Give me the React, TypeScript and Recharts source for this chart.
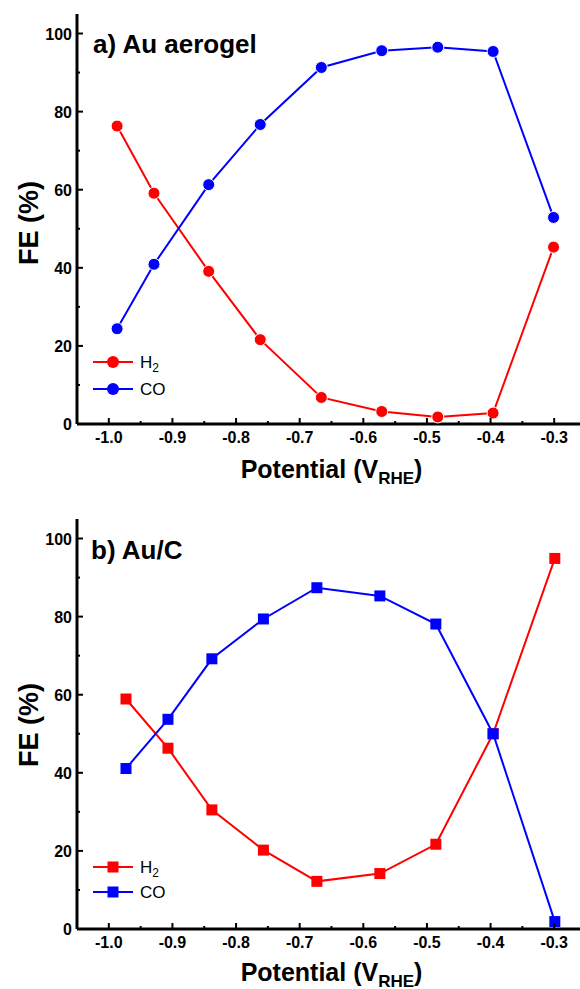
import { LineChart, Line, XAxis, YAxis } from "recharts";

// panel a) Au aerogel
const potentialA = [-0.987, -0.929, -0.843, -0.762, -0.666, -0.571, -0.483, -0.396, -0.301];
const h2A = [76.3, 59.1, 39.1, 21.6, 6.8, 3.2, 1.8, 2.8, 45.3];
const coA = [24.4, 40.9, 61.3, 76.7, 91.3, 95.6, 96.5, 95.4, 52.9];

// panel b) Au/C
const potentialB = [-0.973, -0.907, -0.838, -0.757, -0.673, -0.574, -0.486, -0.396, -0.299];
const h2B = [58.9, 46.3, 30.5, 20.2, 12.2, 14.2, 21.7, 50.0, 94.9];
const coB = [41.1, 53.7, 69.2, 79.4, 87.4, 85.3, 78.1, 50.0, 1.9];

const xTicks = [-1.0, -0.95, -0.9, -0.85, -0.8, -0.75, -0.7, -0.65, -0.6, -0.55, -0.5, -0.45, -0.4, -0.35, -0.3];
const topTicks = [-0.89, -0.81, -0.73, -0.65, -0.57, -0.49, -0.41, -0.33];
const yTicks = [0, 10, 20, 30, 40, 50, 60, 70, 80, 90, 100];

const RED = "#ff0000";
const BLUE = "#0000ff";
const FONT = "'Liberation Sans', Arial, sans-serif";

const rowsA = potentialA.map((p, i) => ({ p, h2: h2A[i], co: coA[i] }));
const rowsB = potentialB.map((p, i) => ({ p, h2: h2B[i], co: coB[i] }));

const isMajorX = (v: number) => Math.abs(v * 10 - Math.round(v * 10)) < 1e-6;

const BottomTick = (props: any) => {
  const { x, y, payload } = props;
  const major = isMajorX(payload.value);
  return (
    <g>
      <line x1={x} x2={x} y1={y} y2={y - (major ? 6 : 3)} stroke="#000" strokeWidth={2} />
      {major && (
        <text x={x} y={y + 19} textAnchor="middle" fontFamily={FONT} fontWeight="bold" fontSize={16} fill="#000">
          {payload.value.toFixed(1)}
        </text>
      )}
    </g>
  );
};

const TopTick = (props: any) => {
  const { x, y } = props;
  return <line x1={x} x2={x} y1={y} y2={y + 5} stroke="#000" strokeWidth={2} />;
};

const LeftTick = (props: any) => {
  const { x, y, payload } = props;
  const major = payload.value % 20 === 0;
  return (
    <g>
      <line x1={x} x2={x + (major ? 6 : 3)} y1={y} y2={y} stroke="#000" strokeWidth={2} />
      {major && (
        <text x={x - 5} y={y + 6} textAnchor="end" fontFamily={FONT} fontWeight="bold" fontSize={16} fill="#000">
          {payload.value}
        </text>
      )}
    </g>
  );
};

const square = (color: string) => (p: any) => (
  <rect key={`sq-${color}-${p.index}`} x={p.cx - 5.5} y={p.cy - 5.5} width={11} height={11} fill={color} />
);

function Panel({ data, marker, top }: { data: any[]; marker: "circle" | "square"; top: number }) {
  const dotFor = (color: string) =>
    marker === "circle" ? { r: 6, fill: color, stroke: "#fff", strokeWidth: 1 } : square(color);
  return (
    <div style={{ position: "absolute", left: 0, top }}>
      <LineChart width={620} height={490} data={data} margin={{ top: 14, right: 34, left: 0, bottom: 0 }}>
        <XAxis
          dataKey="p"
          type="number"
          domain={[-1.05, -0.25]}
          allowDataOverflow
          ticks={xTicks}
          interval={0}
          height={66}
          tickSize={0}
          tickMargin={0}
          tickLine={false}
          axisLine={{ stroke: "#000", strokeWidth: 3 }}
          tick={<BottomTick />}
        />
        <XAxis
          xAxisId="top"
          orientation="top"
          type="number"
          domain={[-1.05, -0.25]}
          allowDataOverflow
          ticks={topTicks}
          interval={0}
          height={0}
          tickSize={0}
          tickMargin={0}
          tickLine={false}
          axisLine={{ stroke: "#000", strokeWidth: 3 }}
          tick={<TopTick />}
        />
        <YAxis
          type="number"
          domain={[0, 105]}
          allowDataOverflow
          ticks={yTicks}
          interval={0}
          width={77}
          tickSize={0}
          tickMargin={0}
          tickLine={false}
          axisLine={{ stroke: "#000", strokeWidth: 3 }}
          tick={<LeftTick />}
        />
        <Line dataKey="h2" type="linear" stroke={RED} strokeWidth={2} dot={dotFor(RED) as any} isAnimationActive={false} />
        <Line dataKey="co" type="linear" stroke={BLUE} strokeWidth={2} dot={dotFor(BLUE) as any} isAnimationActive={false} />
      </LineChart>
    </div>
  );
}

function LegendRow({ y, color, marker, label }: { y: number; color: string; marker: "circle" | "square"; label: "H2" | "CO" }) {
  return (
    <g>
      <line x1={93} x2={133} y1={y} y2={y} stroke={color} strokeWidth={2} />
      {marker === "circle" ? (
        <circle cx={113} cy={y} r={6} fill={color} />
      ) : (
        <rect x={107.5} y={y - 5.5} width={11} height={11} fill={color} />
      )}
      <text x={140} y={y + 6} fontFamily={FONT} fontSize={17} fill="#000">
        {label === "H2" ? (
          <>
            H<tspan fontSize={12} dy={4}>2</tspan>
          </>
        ) : (
          "CO"
        )}
      </text>
    </g>
  );
}

function AxisTitle({ y }: { y: number }) {
  return (
    <text x={331.5} y={y} textAnchor="middle" fontFamily={FONT} fontWeight="bold" fontSize={25} fill="#000">
      Potential (V
      <tspan fontSize={17} dy={6}>RHE</tspan>
      <tspan dy={-6}>)</tspan>
    </text>
  );
}

function YTitle({ cy }: { cy: number }) {
  return (
    <text
      x={38}
      y={cy}
      transform={`rotate(-90 38 ${cy})`}
      textAnchor="middle"
      fontFamily={FONT}
      fontWeight="bold"
      fontSize={27}
      fill="#000"
    >
      FE (%)
    </text>
  );
}

export default function App() {
  return (
    <div style={{ position: "fixed", left: 0, top: 0, width: 580, height: 989, overflow: "hidden", background: "#fff" }}>
      <Panel data={rowsA} marker="circle" top={0} />
      <Panel data={rowsB} marker="square" top={505} />
      <svg width={580} height={989} style={{ position: "absolute", left: 0, top: 0, pointerEvents: "none" }}>
        <text x={93} y={53} fontFamily={FONT} fontWeight="bold" fontSize={26} fill="#000">
          a) Au aerogel
        </text>
        <text x={91} y={559} fontFamily={FONT} fontWeight="bold" fontSize={26} fill="#000">
          b) Au/C
        </text>
        <YTitle cy={223} />
        <YTitle cy={725} />
        <AxisTitle y={478} />
        <AxisTitle y={981} />
        <LegendRow y={362} color={RED} marker="circle" label="H2" />
        <LegendRow y={389} color={BLUE} marker="circle" label="CO" />
        <LegendRow y={867} color={RED} marker="square" label="H2" />
        <LegendRow y={892} color={BLUE} marker="square" label="CO" />
      </svg>
    </div>
  );
}
